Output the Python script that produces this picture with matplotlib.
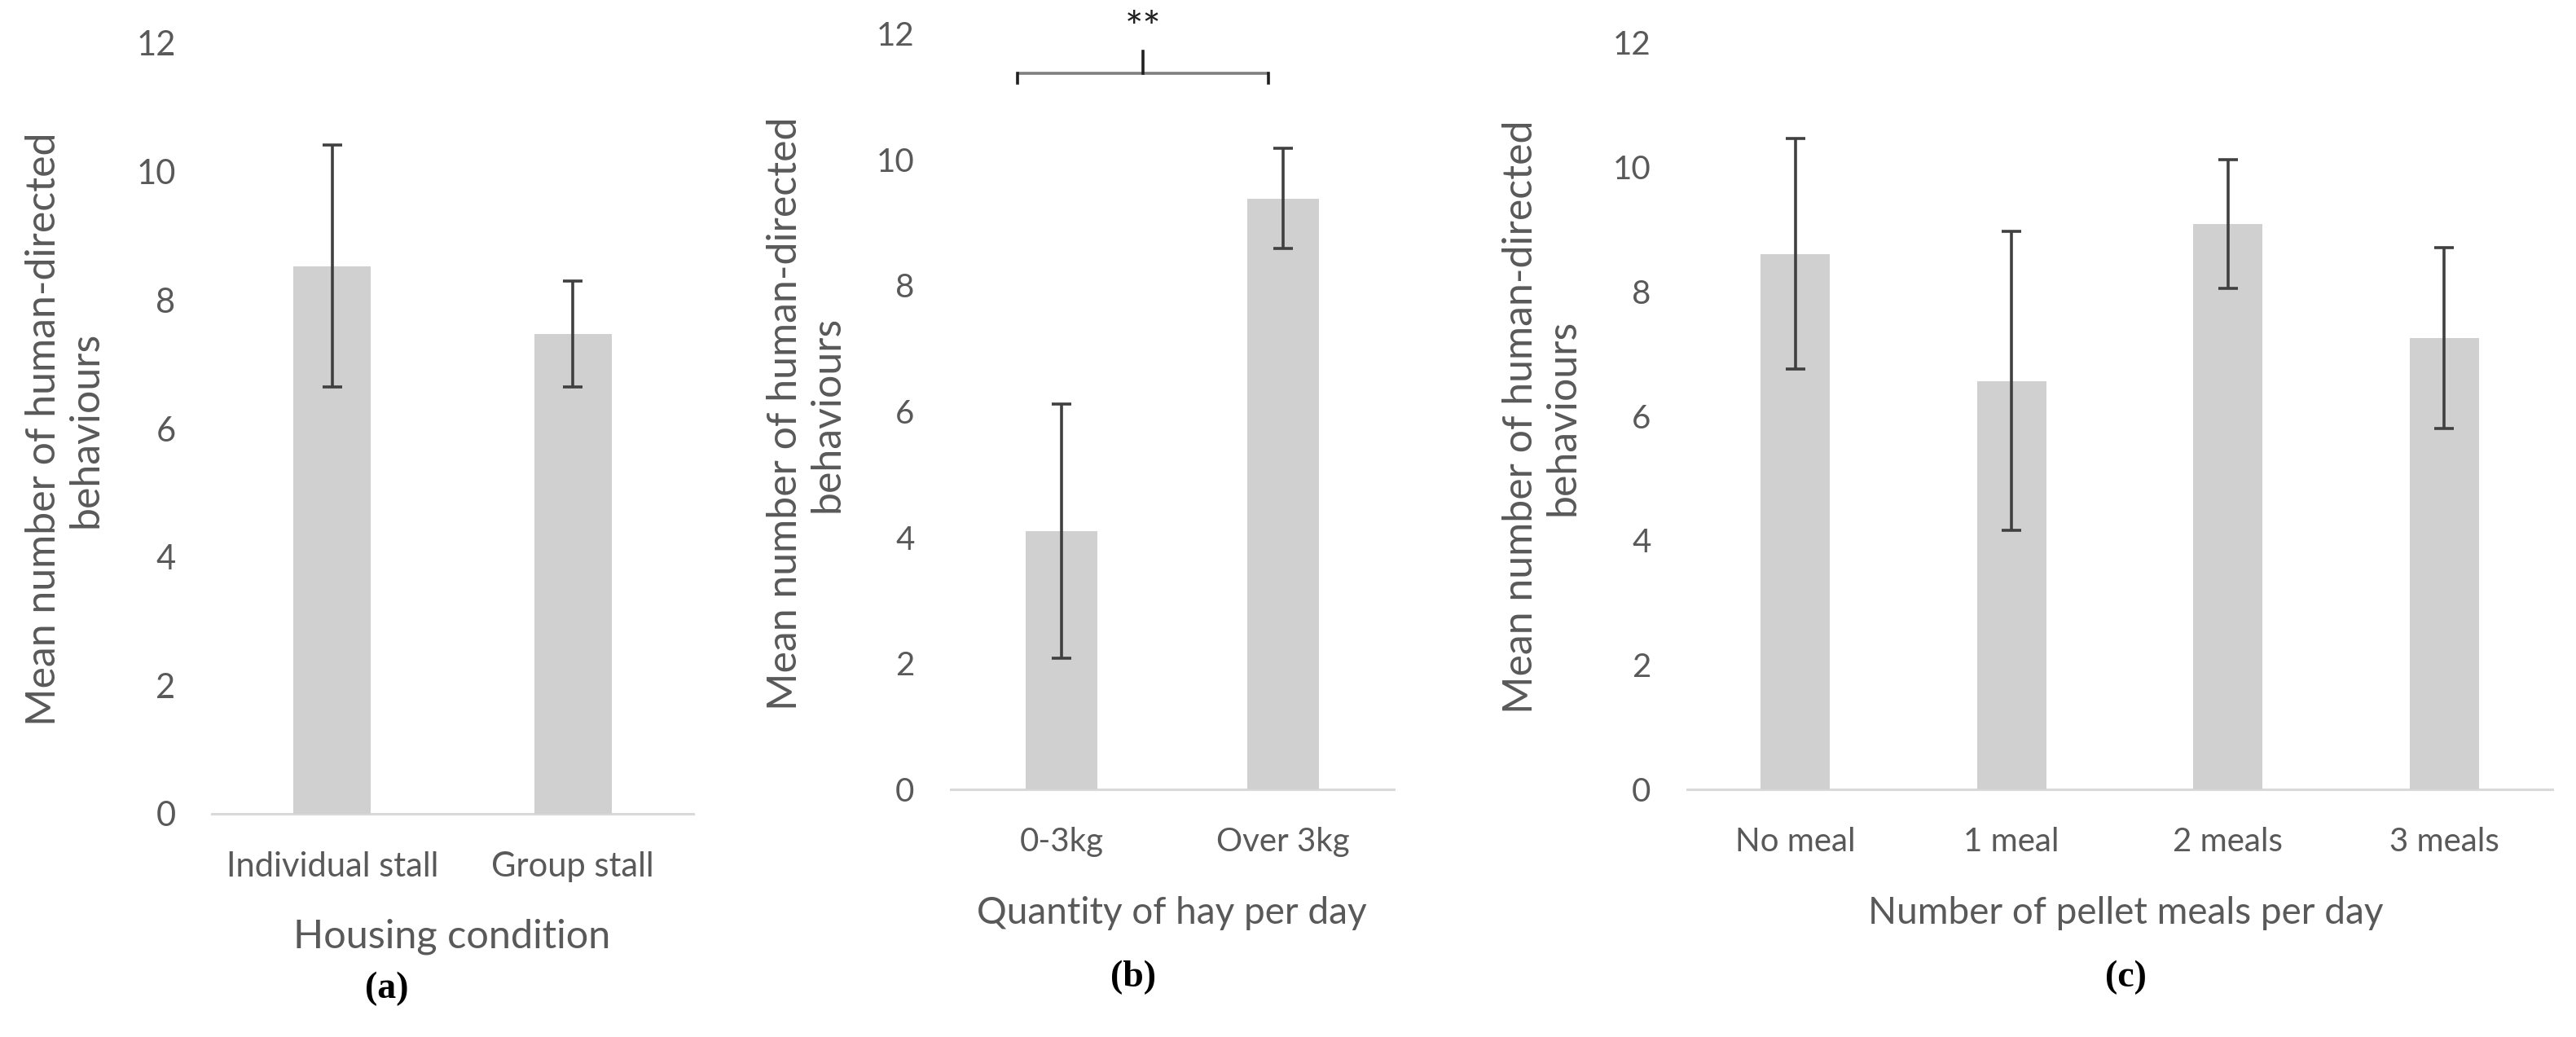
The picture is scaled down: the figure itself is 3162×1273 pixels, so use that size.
import matplotlib
matplotlib.use("Agg")
import matplotlib.pyplot as plt

# ---- data ----
housing_cats = ["Individual stall", "Group stall"]
housing_means = [8.53, 7.47]
housing_err = [1.88, 0.82]

hay_cats = ["0-3kg", "Over 3kg"]
hay_means = [4.10, 9.38]
hay_err = [2.02, 0.80]

meal_cats = ["No meal", "1 meal", "2 meals", "3 meals"]
meal_means = [8.60, 6.56, 9.08, 7.25]
meal_err = [1.85, 2.40, 1.03, 1.45]

y_ticks = [0, 2, 4, 6, 8, 10, 12]
y_label = "Mean number of human-directed\nbehaviours"
x_labels = ["Housing condition", "Quantity of hay per day", "Number of pellet meals per day"]
panel_tags = ["(a)", "(b)", "(c)"]
sig_text = "**"

# ---- style ----
W, H = 3162, 1273
DPI = 100
FONT = ["Lato", "DejaVu Sans"]
TEXT_C = "#595959"
BAR_C = "#D0D0D0"
AXIS_C = "#D9D9D9"
ERR_C = "#404040"

plt.rcParams["font.family"] = FONT
fig = plt.figure(figsize=(W / DPI, H / DPI), dpi=DPI)


def px_ax(left, right, top, bottom):
    return [left / W, 1 - bottom / H, (right - left) / W, (bottom - top) / H]


def panel(rect, cats, means, errs, tsize):
    ax = fig.add_axes(rect)
    x = list(range(len(cats)))
    ax.bar(x, means, width=0.32, color=BAR_C, zorder=2)
    ax.errorbar(x, means, yerr=errs, fmt="none", ecolor=ERR_C, elinewidth=2.6,
                capsize=8.5, capthick=2.6, zorder=3)
    ax.set_xlim(-0.5, len(cats) - 0.5)
    ax.set_ylim(0, 12)
    ax.set_yticks(y_ticks)
    ax.set_xticks(x)
    ax.set_xticklabels(cats)
    for s in ["top", "right", "left"]:
        ax.spines[s].set_visible(False)
    ax.spines["bottom"].set_color(AXIS_C)
    ax.spines["bottom"].set_linewidth(2.2)
    ax.spines["bottom"].set_zorder(1)
    ax.tick_params(axis="y", length=0, pad=32, labelsize=tsize, labelcolor=TEXT_C)
    ax.tick_params(axis="x", length=0, pad=33, labelsize=tsize, labelcolor=TEXT_C)
    ax.set_facecolor("none")
    return ax


ax_a = panel(px_ax(260, 851, 53, 999), housing_cats, housing_means, housing_err, 30)
ax_b = panel(px_ax(1167, 1711, 41, 969), hay_cats, hay_means, hay_err, 29)
ax_c = panel(px_ax(2071, 3133, 52, 969), meal_cats, meal_means, meal_err, 29)


def ftext(xp, yp, s, **kw):
    fig.text(xp / W, 1 - yp / H, s, **kw)


# y labels
for xp, yp in [(80, 527), (990, 508), (1893, 512)]:
    ftext(xp, yp, y_label, rotation=90, ha="center", va="center",
          multialignment="center", fontsize=36, color=TEXT_C, linespacing=1.15)

# x labels
for (xp, yp), s, fs in zip([(555, 1128), (1438, 1100), (2609, 1100)], x_labels, [35, 33, 33]):
    ftext(xp, yp, s, ha="center", va="top", fontsize=fs, color=TEXT_C)

# panel tags
for (xp, yp), s in zip([(475, 1214), (1391, 1200), (2609, 1200)], panel_tags):
    ftext(xp, yp, s, ha="center", va="center", fontsize=33, fontweight="bold",
          family="Liberation Serif", color="black")

# significance bracket on panel (b)
bx0, bx1, bxm = -0.197, 0.932, 0.3675
by, byend, bytop = 11.36, 11.21, 11.72
ax_b.plot([bx0, bx1], [by, by], color="#7F7F7F", lw=2.6, clip_on=False, zorder=4,
          solid_capstyle="butt")
ax_b.plot([bx0, bx0], [by, byend], color="#202020", lw=2.6, clip_on=False, zorder=4)
ax_b.plot([bx1, bx1], [by, byend], color="#202020", lw=2.6, clip_on=False, zorder=4)
ax_b.plot([bxm, bxm], [by, bytop], color="#202020", lw=2.6, clip_on=False, zorder=4)
ax_b.text(bxm, 12.05, sig_text, ha="center", va="center", fontsize=38,
          color="#202020", clip_on=False)

fig.savefig("out.png", dpi=DPI, facecolor="white")
